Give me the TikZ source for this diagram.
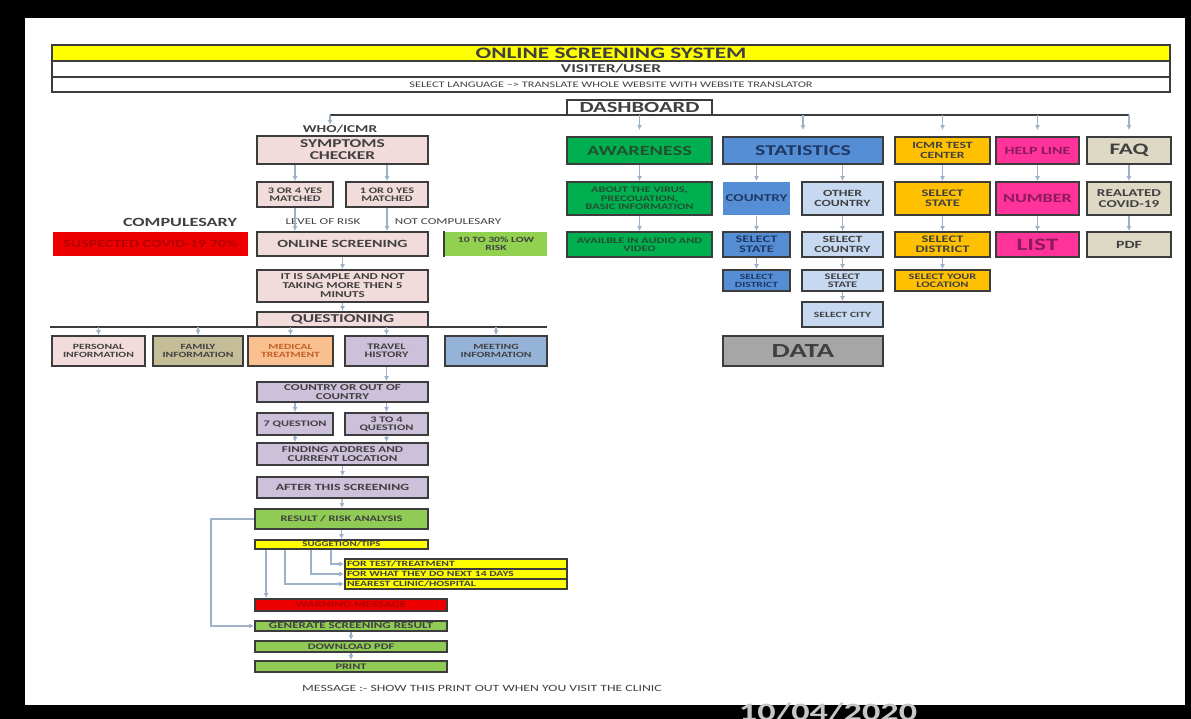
\documentclass[tikz,border=0pt]{standalone}
\usepackage{fontspec}
\setmainfont{Carlito}[FakeStretch=1.45]
\usetikzlibrary{arrows.meta}

\definecolor{boxline}{HTML}{3C3C3C}
\definecolor{arrowcol}{HTML}{9DB1C8}
\definecolor{txt}{HTML}{404040}
\definecolor{hdryellow}{HTML}{FFFF00}
\definecolor{pinkbox}{HTML}{F2DCDB}
\definecolor{redbox}{HTML}{EE0000}
\definecolor{redtxt}{HTML}{B40000}
\definecolor{lowgreen}{HTML}{92D050}
\definecolor{olivebox}{HTML}{C4BD97}
\definecolor{orangebox}{HTML}{FAC090}
\definecolor{orangetxt}{HTML}{C0602A}
\definecolor{lavbox}{HTML}{CCC0DA}
\definecolor{meetbox}{HTML}{95B3D7}
\definecolor{resgreen}{HTML}{8FCB55}
\definecolor{awgreen}{HTML}{00B050}
\definecolor{awtxt}{HTML}{235030}
\definecolor{statblue}{HTML}{558ED5}
\definecolor{stattxt}{HTML}{1F3864}
\definecolor{lightblue}{HTML}{C6D9F1}
\definecolor{datagray}{HTML}{A6A6A6}
\definecolor{icmrorange}{HTML}{FFC000}
\definecolor{helppink}{HTML}{FF3399}
\definecolor{helptxt}{HTML}{8C1A5C}
\definecolor{faqbeige}{HTML}{DDD9C4}

\begin{document}
\begin{tikzpicture}[x=1pt, y=-1pt,
		box/.style={draw=boxline, line width=1.8pt, inner sep=0pt, align=center, text=txt},
		hdr/.style={draw=boxline, line width=1.3pt, inner sep=0pt, text=txt},
		fnt/.style={font=\fontsize{#1}{#1}\selectfont\bfseries},
		arr/.style={draw=arrowcol, line width=1.3pt, -{Latex[length=5pt, width=5pt]}},
		lbl/.style={text=txt, inner sep=0pt}]
	
	% black frame of the photo
	\fill[black] (0,0) rectangle (1191,719);
	\fill[white] (25,18) rectangle (1185,705);
	\begin{scope}
		\clip (0,0) rectangle (1191,719);
		\node[anchor=north, inner sep=0pt, text=gray!45, fnt=25] (date) at (828,703) {10/04/2020};
	\end{scope}
	
	% header
	\node[hdr, fill=hdryellow, minimum width=1118pt, minimum height=16pt, fnt=16] (title) at (611,53) {ONLINE SCREENING SYSTEM};
	\node[hdr, fill=white, minimum width=1118pt, minimum height=16pt, fnt=12] (user) at (611,69) {VISITER/USER};
	\node[hdr, fill=white, minimum width=1118pt, minimum height=15pt, font=\fontsize{8.5}{8.5}\selectfont] (lang) at (611,84.5) {SELECT LANGUAGE --> TRANSLATE WHOLE WEBSITE WITH WEBSITE TRANSLATOR};
	
	% dashboard line
	\coordinate (dl) at (330,115);
	\coordinate (dr) at (1129,115);
	\draw[boxline, line width=1.3pt] (dl) -- (dr);
	\node[hdr, fill=white, minimum width=145pt, minimum height=15pt, fnt=15.5] (dash) at (639.5,107.5) {DASHBOARD};
	
	% symptoms checker side
	\node[lbl, fnt=10.5] (who) at (340,129) {WHO/ICMR};
	\node[box, fill=pinkbox, minimum width=171pt, minimum height=28pt, fnt=12] (symptoms) at (342.5,150) {SYMPTOMS\\CHECKER};
	\node[box, fill=pinkbox, minimum width=76pt, minimum height=25pt, fnt=8.5] (yesfour) at (295,194.5) {3 OR 4 YES\\MATCHED};
	\node[box, fill=pinkbox, minimum width=82pt, minimum height=25pt, fnt=8.5] (yesone) at (387,194.5) {1 OR 0 YES\\MATCHED};
	
	\node[lbl, fnt=12.5] (compul) at (180,222) {COMPULESARY};
	\node[lbl, font=\fontsize{9}{9}\selectfont] (level) at (323,222) {LEVEL OF RISK};
	\node[lbl, font=\fontsize{9}{9}\selectfont] (notcompul) at (448,222) {NOT COMPULESARY};
	
	\node[box, draw=none, fill=redbox, text=redtxt, minimum width=195pt, minimum height=24pt, fnt=11] (suspected) at (150.5,244) {SUSPECTED COVID-19 70\%};
	\node[box, fill=pinkbox, minimum width=171pt, minimum height=24pt, fnt=11] (online) at (342.5,244) {ONLINE SCREENING};
	\node[box, draw=none, fill=lowgreen, minimum width=102pt, minimum height=24pt, fnt=8] (lowrisk) at (496,244) {10 TO 30\% LOW\\RISK};
	\draw[boxline, line width=2pt] (lowrisk.north west) -- (lowrisk.south west);
	
	\node[box, fill=pinkbox, minimum width=171pt, minimum height=32pt, fnt=9] (sample) at (342.5,286) {IT IS SAMPLE AND NOT\\TAKING MORE THEN 5\\MINUTS};
	
	% questioning line
	\coordinate (ql) at (50,327);
	\coordinate (qr) at (547,327);
	\draw[boxline, line width=1.3pt] (ql) -- (qr);
	\node[box, fill=pinkbox, minimum width=171pt, minimum height=15pt, fnt=12] (questioning) at (342.5,319.5) {QUESTIONING};
	
	\node[box, fill=pinkbox, minimum width=93pt, minimum height=30pt, fnt=8] (personal) at (98.5,351) {PERSONAL\\INFORMATION};
	\node[box, fill=olivebox, minimum width=90pt, minimum height=30pt, fnt=8] (family) at (198,351) {FAMILY\\INFORMATION};
	\node[box, fill=orangebox, text=orangetxt, minimum width=85pt, minimum height=30pt, fnt=8] (medical) at (290.5,351) {MEDICAL\\TREATMENT};
	\node[box, fill=lavbox, minimum width=83pt, minimum height=30pt, fnt=8.5] (travel) at (386.5,351) {TRAVEL\\HISTORY};
	\node[box, fill=meetbox, minimum width=102pt, minimum height=30pt, fnt=8] (meeting) at (496,351) {MEETING\\INFORMATION};
	
	\node[box, fill=lavbox, minimum width=171pt, minimum height=20pt, fnt=9] (ctry) at (342.5,392) {COUNTRY OR OUT OF\\COUNTRY};
	\node[box, fill=lavbox, minimum width=76pt, minimum height=22pt, fnt=8.5] (qseven) at (295,424) {7 QUESTION};
	\node[box, fill=lavbox, minimum width=83pt, minimum height=22pt, fnt=8.5] (qthree) at (386.5,424) {3 TO 4\\QUESTION};
	\node[box, fill=lavbox, minimum width=171pt, minimum height=22pt, fnt=9] (finding) at (342.5,454) {FINDING ADDRES AND\\CURRENT LOCATION};
	\node[box, fill=lavbox, minimum width=171pt, minimum height=21pt, fnt=9.5] (after) at (342.5,487.5) {AFTER THIS SCREENING};
	
	% result part
	\node[box, fill=resgreen, minimum width=173pt, minimum height=20pt, fnt=8.5] (result) at (341.5,519) {RESULT / RISK ANALYSIS};
	\node[box, fill=hdryellow, minimum width=173pt, minimum height=9pt, fnt=7.5] (tips) at (341.5,544.5) {SUGGETION/TIPS};
	\node[box, fill=hdryellow, minimum width=222pt, minimum height=10pt, text width=218pt, align=left, fnt=8] (fortest) at (456,564) {FOR TEST/TREATMENT};
	\node[box, fill=hdryellow, minimum width=222pt, minimum height=10pt, text width=218pt, align=left, fnt=8] (fornext) at (456,574) {FOR WHAT THEY DO NEXT 14 DAYS};
	\node[box, fill=hdryellow, minimum width=222pt, minimum height=10pt, text width=218pt, align=left, fnt=8] (nearest) at (456,584) {NEAREST CLINIC/HOSPITAL};
	\node[box, fill=redbox, text=redtxt, minimum width=192pt, minimum height=12pt, fnt=9] (warning) at (351,605) {WARNING MESSAGE};
	\node[box, fill=resgreen, minimum width=192pt, minimum height=10pt, fnt=9] (generate) at (351,626) {GENERATE SCREENING RESULT};
	\node[box, fill=resgreen, minimum width=192pt, minimum height=11pt, fnt=8.5] (download) at (351,646.5) {DOWNLOAD PDF};
	\node[box, fill=resgreen, minimum width=192pt, minimum height=11pt, fnt=8.5] (print) at (351,666.5) {PRINT};
	\node[lbl, font=\fontsize{9.5}{9.5}\selectfont] (message) at (482,688) {MESSAGE :- SHOW THIS PRINT OUT WHEN YOU VISIT THE CLINIC};
	
	% awareness
	\node[box, fill=awgreen, text=awtxt, minimum width=145pt, minimum height=27pt, fnt=14] (awareness) at (639.5,150.5) {AWARENESS};
	\node[box, fill=awgreen, text=awtxt, minimum width=145pt, minimum height=33pt, fnt=8.5] (about) at (639.5,198.5) {ABOUT THE VIRUS,\\PRECOUATION,\\BASIC INFORMATION};
	\node[box, fill=awgreen, text=awtxt, minimum width=145pt, minimum height=25pt, fnt=8.5] (audio) at (639.5,244.5) {AVAILBLE IN AUDIO AND\\VIDEO};
	
	% statistics
	\node[box, fill=statblue, text=stattxt, minimum width=160pt, minimum height=27pt, fnt=15] (statistics) at (803,150.5) {STATISTICS};
	\node[box, draw=none, fill=statblue, text=stattxt, minimum width=67pt, minimum height=33pt, fnt=10.5] (country) at (756.5,198.5) {COUNTRY};
	\node[box, fill=lightblue, minimum width=81pt, minimum height=33pt, fnt=9.5] (other) at (842.5,198.5) {OTHER\\COUNTRY};
	\node[box, fill=statblue, text=stattxt, minimum width=67pt, minimum height=25pt, fnt=10] (sstate) at (756.5,244.5) {SELECT\\STATE};
	\node[box, fill=lightblue, minimum width=81pt, minimum height=25pt, fnt=9.5] (scountry) at (842.5,244.5) {SELECT\\COUNTRY};
	\node[box, fill=statblue, text=stattxt, minimum width=67pt, minimum height=21pt, fnt=8] (sdistrict) at (756.5,280.5) {SELECT\\DISTRICT};
	\node[box, fill=lightblue, minimum width=81pt, minimum height=21pt, fnt=8.5] (sstatetwo) at (842.5,280.5) {SELECT\\STATE};
	\node[box, fill=lightblue, minimum width=81pt, minimum height=25pt, fnt=8] (scity) at (842.5,314.5) {SELECT CITY};
	\node[box, fill=datagray, minimum width=160pt, minimum height=30pt, fnt=20] (data) at (803,351) {DATA};
	
	% icmr, help line, faq
	\node[box, fill=icmrorange, minimum width=95pt, minimum height=27pt, fnt=9.5] (icmr) at (942.5,150.5) {ICMR TEST\\CENTER};
	\node[box, fill=icmrorange, minimum width=95pt, minimum height=33pt, fnt=10] (istate) at (942.5,198.5) {SELECT\\STATE};
	\node[box, fill=icmrorange, minimum width=95pt, minimum height=25pt, fnt=10] (idistrict) at (942.5,244.5) {SELECT\\DISTRICT};
	\node[box, fill=icmrorange, minimum width=95pt, minimum height=21pt, fnt=8.5] (ilocation) at (942.5,280.5) {SELECT YOUR\\LOCATION};
	\node[box, fill=helppink, text=helptxt, minimum width=83pt, minimum height=27pt, fnt=11] (help) at (1037.5,150.5) {HELP LINE};
	\node[box, fill=helppink, text=helptxt, minimum width=83pt, minimum height=33pt, fnt=12.5] (number) at (1037.5,198.5) {NUMBER};
	\node[box, fill=helppink, text=helptxt, minimum width=83pt, minimum height=25pt, fnt=17.5] (list) at (1037.5,244.5) {LIST};
	\node[box, fill=faqbeige, minimum width=84pt, minimum height=27pt, fnt=16] (faq) at (1129,150.5) {FAQ};
	\node[box, fill=faqbeige, minimum width=84pt, minimum height=33pt, fnt=10.5] (related) at (1129,198.5) {REALATED\\COVID-19};
	\node[box, fill=faqbeige, minimum width=84pt, minimum height=25pt, fnt=11] (pdf) at (1129,244.5) {PDF};
	
	% arrows from dashboard line
	\draw[arr] (dl) -- (who.north -| dl);
	\foreach \n in {awareness, statistics, icmr, help, faq}{
		\draw[arr, shorten >=6pt] (\n.north |- dl) -- (\n.north);
	}
	
	% arrows of the screening
	\draw[arr] (yesfour.north |- symptoms.south) -- (yesfour.north);
	\draw[arr] (yesone.north |- symptoms.south) -- (yesone.north);
	\draw[arr] (yesfour.south) -- (yesfour.south |- online.north);
	\draw[arr] (yesone.south) -- (yesone.south |- online.north);
	\draw[arr] (online) -- (sample);
	\draw[arr] (sample) -- (questioning);
	\foreach \n in {personal, family, medical, travel, meeting}{
		\draw[arr] (\n.north |- ql) -- (\n.north);
	}
	\draw[arr] (travel.south) -- (travel.south |- ctry.north);
	\draw[arr] (qseven.north |- ctry.south) -- (qseven.north);
	\draw[arr] (qthree.north |- ctry.south) -- (qthree.north);
	\draw[arr] (qseven.south) -- (qseven.south |- finding.north);
	\draw[arr] (qthree.south) -- (qthree.south |- finding.north);
	\draw[arr] (finding) -- (after);
	\draw[arr] (after) -- (result);
	\draw[arr] (result) -- (tips);
	
	% suggestion branches
	\draw[arr] ([xshift=77pt]tips.south west) |- (fortest.west);
	\draw[arr] ([xshift=57pt]tips.south west) |- (fornext.west);
	\draw[arr] ([xshift=31pt]tips.south west) |- (nearest.west);
	\draw[arr] ([xshift=12pt]tips.south west) -- ([xshift=12pt]warning.north west);
	\draw[arr] (result.west) -- ++(-43,0) |- (generate.west);
	\draw[arr] (generate) -- (download);
	\draw[arr] (download) -- (print);
	
	% arrows of the other columns
	\draw[arr] (awareness) -- (about);
	\draw[arr] (about) -- (audio);
	\draw[arr] (country.north |- statistics.south) -- (country.north);
	\draw[arr] (other.north |- statistics.south) -- (other.north);
	\draw[arr] (country) -- (sstate);
	\draw[arr] (sstate) -- (sdistrict);
	\draw[arr] (other) -- (scountry);
	\draw[arr] (scountry) -- (sstatetwo);
	\draw[arr] (sstatetwo) -- (scity);
	\draw[arr] (icmr) -- (istate);
	\draw[arr] (istate) -- (idistrict);
	\draw[arr] (idistrict) -- (ilocation);
	\draw[arr] (help) -- (number);
	\draw[arr] (number) -- (list);
	\draw[arr] (faq) -- (related);
	\draw[arr] (related) -- (pdf);
\end{tikzpicture}
\end{document}
